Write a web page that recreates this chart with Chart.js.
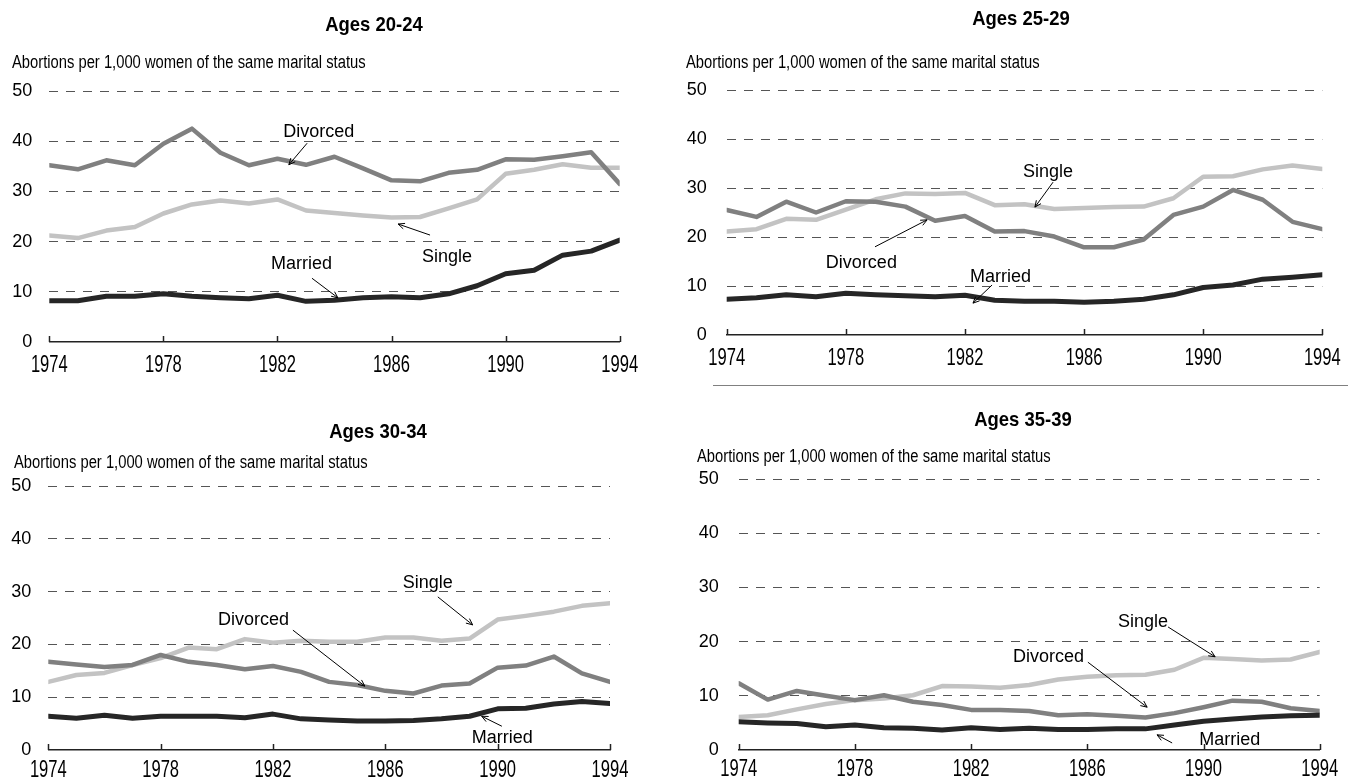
<!DOCTYPE html>
<html>
<head>
<meta charset="utf-8">
<script src="https://cdn.jsdelivr.net/npm/chart.js@4/dist/chart.umd.min.js"></script>
<style>
  html, body { margin: 0; padding: 0; background: #fff; }
  body { width: 1349px; height: 781px; position: relative; overflow: hidden; }
  canvas { position: absolute; }
</style>
</head>
<body>
<canvas id="c1"></canvas>
<canvas id="c2"></canvas>
<canvas id="c3"></canvas>
<canvas id="c4"></canvas>
<script>
// ---------- data ----------
const years = [1974, 1975, 1976, 1977, 1978, 1979, 1980, 1981, 1982, 1983, 1984,
               1985, 1986, 1987, 1988, 1989, 1990, 1991, 1992, 1993, 1994];
const yTicks = [0, 10, 20, 30, 40, 50];
const xTicks = [1974, 1978, 1982, 1986, 1990, 1994];
const seriesNames = ["Single", "Divorced", "Married"];
const panelTitles = ["Ages 20-24", "Ages 25-29", "Ages 30-34", "Ages 35-39"];
const axisLabel = "Abortions per 1,000 women of the same marital status";

const a2024_single   = [21.2, 20.7, 22.2, 22.9, 25.6, 27.4, 28.2, 27.6, 28.4, 26.2, 25.7, 25.2, 24.8, 24.9, 26.6, 28.4, 33.5, 34.3, 35.4, 34.7, 34.7];
const a2024_divorced = [35.2, 34.4, 36.2, 35.2, 39.5, 42.5, 37.7, 35.2, 36.5, 35.3, 36.9, 34.6, 32.2, 32.0, 33.7, 34.3, 36.4, 36.3, 37.0, 37.8, 31.5];
const a2024_married  = [8.2, 8.2, 9.1, 9.1, 9.6, 9.1, 8.8, 8.6, 9.3, 8.1, 8.3, 8.8, 9.0, 8.8, 9.6, 11.2, 13.6, 14.3, 17.3, 18.1, 20.3];

const a2529_single   = [21.1, 21.6, 23.7, 23.5, 25.6, 27.7, 28.9, 28.8, 29.0, 26.5, 26.7, 25.7, 25.9, 26.1, 26.2, 27.9, 32.3, 32.4, 33.8, 34.6, 33.9];
const a2529_divorced = [25.5, 24.1, 27.2, 25.0, 27.3, 27.2, 26.2, 23.3, 24.3, 21.1, 21.2, 20.1, 17.9, 17.9, 19.5, 24.5, 26.2, 29.6, 27.6, 23.1, 21.6];
const a2529_married  = [7.3, 7.6, 8.2, 7.8, 8.5, 8.2, 8.0, 7.8, 8.1, 7.1, 6.9, 6.9, 6.7, 6.9, 7.3, 8.2, 9.7, 10.2, 11.4, 11.8, 12.3];

const a3034_single   = [12.9, 14.2, 14.6, 16.1, 17.4, 19.4, 19.1, 21.0, 20.3, 20.7, 20.5, 20.5, 21.3, 21.3, 20.7, 21.1, 24.7, 25.4, 26.2, 27.3, 27.8];
const a3034_divorced = [16.7, 16.2, 15.7, 16.1, 18.0, 16.7, 16.1, 15.3, 15.9, 14.8, 12.9, 12.3, 11.2, 10.7, 12.2, 12.6, 15.6, 16.0, 17.7, 14.5, 12.9];
const a3034_married  = [6.4, 6.0, 6.6, 6.0, 6.4, 6.4, 6.4, 6.1, 6.8, 5.9, 5.7, 5.5, 5.5, 5.6, 5.9, 6.4, 7.8, 7.9, 8.7, 9.2, 8.8];

const a3539_single   = [6.1, 6.4, 7.5, 8.5, 9.2, 9.5, 10.1, 11.8, 11.7, 11.5, 12.0, 13.0, 13.5, 13.8, 13.9, 14.8, 17.0, 16.8, 16.5, 16.7, 18.1];
const a3539_divorced = [12.3, 9.3, 10.9, 10.0, 9.2, 10.1, 8.9, 8.3, 7.4, 7.4, 7.2, 6.4, 6.6, 6.3, 6.0, 6.8, 7.9, 9.1, 8.9, 7.7, 7.2];
const a3539_married  = [5.2, 5.0, 4.9, 4.3, 4.6, 4.1, 4.0, 3.7, 4.1, 3.8, 4.0, 3.8, 3.8, 3.9, 3.9, 4.6, 5.3, 5.7, 6.1, 6.3, 6.4];

// annotation anchors in data units: [label, textX, textY, arrowFromX, arrowFromY, arrowToX, arrowToY]
const notes2024 = [
  ["Divorced", 1982.2, 41.8, 1983.04, 39.6, 1982.40, 35.3],
  ["Single",   1987.07, 16.9, 1987.35, 21.3, 1986.23, 23.5],
  ["Married",  1981.77, 15.5, 1983.21, 12.7, 1984.12, 8.8]
];
const notes2529 = [
  ["Single",   1983.95, 33.3, 1984.96, 31.2, 1984.35, 26.1],
  ["Divorced", 1977.33, 14.7, 1978.98, 18.0, 1980.73, 23.5],
  ["Married",  1982.17, 11.8, 1982.91, 10.2, 1982.27, 6.5]
];
const notes3034 = [
  ["Divorced", 1980.04, 24.6, 1982.71, 22.7, 1985.27, 12.1],
  ["Single",   1986.62, 31.6, 1987.87, 29.0, 1989.11, 23.7],
  ["Married",  1989.08, 2.3, 1990.15, 4.5, 1989.43, 6.4]
];
const notes3539 = [
  ["Single",   1987.06, 23.6, 1988.78, 22.7, 1990.40, 17.2],
  ["Divorced", 1983.44, 17.2, 1986.02, 16.2, 1988.06, 7.9],
  ["Married",  1989.85, 1.8, 1988.92, 1.3, 1988.40, 2.8]
];

// ---------- styling / layout ----------
const FONT = "'Liberation Sans', Arial, sans-serif";
const COLORS = { Single: "#c3c3c3", Divorced: "#808080", Married: "#262626" };
const WIDTHS = { Single: 4.5, Divorced: 4.5, Married: 5 };
const ORDER = { Single: 3, Divorced: 2, Married: 1 };

const panels = [
  { id: "c1", box: [0, 0, 670, 390], plot: [49.3, 619.7, 91, 342], titleX: 374, titleBase: 31,
    labelX: 12, labelBase: 68, tickPad: 17, xBase: 29.5,
    series: [a2024_single, a2024_divorced, a2024_married], notes: notes2024 },
  { id: "c2", box: [675, 0, 674, 390], plot: [726.7, 1322.3, 90, 335], titleX: 1021, titleBase: 25,
    labelX: 686, labelBase: 68, tickPad: 20, xBase: 30, sep: [713, 1348, 385],
    series: [a2529_single, a2529_divorced, a2529_married], notes: notes2529 },
  { id: "c3", box: [0, 392, 670, 389], plot: [48.3, 610, 486, 750], titleX: 378, titleBase: 438,
    labelX: 14, labelBase: 468, tickPad: 17, xBase: 27,
    series: [a3034_single, a3034_divorced, a3034_married], notes: notes3034 },
  { id: "c4", box: [675, 392, 674, 389], plot: [738.7, 1319.7, 479, 750], titleX: 1023, titleBase: 426,
    labelX: 697, labelBase: 462, tickPad: 20, xBase: 25.5,
    series: [a3539_single, a3539_divorced, a3539_married], notes: notes3539 }
];

Chart.defaults.font.family = FONT;
Chart.defaults.color = "#000";

function condensedText(ctx, text, x, y, sx, font, align) {
  ctx.save();
  ctx.font = font;
  ctx.textAlign = align;
  ctx.translate(x, y);
  ctx.scale(sx, 1);
  ctx.fillText(text, 0, 0);
  ctx.restore();
}

function arrow(ctx, x1, y1, x2, y2) {
  ctx.beginPath();
  ctx.moveTo(x1, y1);
  ctx.lineTo(x2, y2);
  ctx.stroke();
  const a = Math.atan2(y2 - y1, x2 - x1);
  const L = 7, w = 0.42;
  ctx.beginPath();
  ctx.moveTo(x2 - L * Math.cos(a - w), y2 - L * Math.sin(a - w));
  ctx.lineTo(x2, y2);
  ctx.lineTo(x2 - L * Math.cos(a + w), y2 - L * Math.sin(a + w));
  ctx.stroke();
}

const decor = {
  id: "decor",
  afterDraw(chart, args, opts) {
    const p = opts.panel;
    const ctx = chart.ctx;
    const ox = p.box[0], oy = p.box[1];
    const xs = chart.scales.x, ys = chart.scales.y;
    ctx.save();
    const yb = ys.getPixelForValue(0);
    // upward tick marks and condensed year labels on the x axis
    ctx.strokeStyle = "#222";
    ctx.lineWidth = 1.5;
    ctx.fillStyle = "#000";
    ctx.textBaseline = "alphabetic";
    xTicks.forEach(v => {
      const x = Math.round(xs.getPixelForValue(v)) + 0.5;
      ctx.beginPath();
      ctx.moveTo(x, yb);
      ctx.lineTo(x, yb - 6);
      ctx.stroke();
      condensedText(ctx, String(v), xs.getPixelForValue(v), yb + p.xBase, 0.72, "23px " + FONT, "center");
    });
    // title
    condensedText(ctx, opts.title, p.titleX - ox, p.titleBase - oy, 0.88, "bold 21px " + FONT, "center");
    // axis label
    condensedText(ctx, axisLabel, p.labelX - ox, p.labelBase - oy, 0.82, "18px " + FONT, "left");
    // annotations
    ctx.font = "18px " + FONT;
    ctx.textAlign = "left";
    ctx.lineWidth = 1;
    ctx.strokeStyle = "#000";
    ctx.textBaseline = "middle";
    p.notes.forEach(n => {
      ctx.fillText(n[0], xs.getPixelForValue(n[1]), ys.getPixelForValue(n[2]));
      arrow(ctx, xs.getPixelForValue(n[3]), ys.getPixelForValue(n[4]),
                 xs.getPixelForValue(n[5]), ys.getPixelForValue(n[6]));
    });
    // separator
    if (p.sep) {
      ctx.strokeStyle = "#808080";
      ctx.lineWidth = 1.2;
      ctx.beginPath();
      ctx.moveTo(p.sep[0] - ox, p.sep[2] - oy + 0.5);
      ctx.lineTo(p.sep[1] - ox, p.sep[2] - oy + 0.5);
      ctx.stroke();
    }
    ctx.restore();
  }
};

panels.forEach((p, i) => {
  const cv = document.getElementById(p.id);
  cv.width = p.box[2]; cv.height = p.box[3];
  cv.style.left = p.box[0] + "px"; cv.style.top = p.box[1] + "px";
  cv.style.width = p.box[2] + "px"; cv.style.height = p.box[3] + "px";
  const leftW = p.plot[0] - p.box[0];
  const padTop = p.plot[2] - p.box[1];
  const padRight = p.box[0] + p.box[2] - p.plot[1];
  const botH = p.box[1] + p.box[3] - p.plot[3];
  const datasets = seriesNames.map((name, k) => ({
    label: name,
    data: years.map((yr, j) => ({ x: yr, y: p.series[k][j] })),
    borderColor: COLORS[name],
    backgroundColor: COLORS[name],
    borderWidth: WIDTHS[name],
    pointRadius: 0,
    tension: 0,
    borderJoinStyle: "round",
    borderCapStyle: "round",
    order: ORDER[name]
  }));
  new Chart(cv, {
    type: "line",
    data: { datasets },
    options: {
      responsive: false,
      animation: false,
      devicePixelRatio: 1,
      layout: { padding: { left: 0, top: padTop, right: padRight, bottom: 0 } },
      plugins: {
        legend: { display: false },
        tooltip: { enabled: false },
        title: { display: false },
        decor: { panel: p, title: panelTitles[i] }
      },
      scales: {
        x: {
          type: "linear",
          min: years[0], max: years[years.length - 1],
          afterBuildTicks: s => { s.ticks = xTicks.map(v => ({ value: v })); },
          afterFit: s => { s.height = botH; },
          grid: { display: false, drawTicks: false },
          border: { display: true, color: "#222", width: 1.5 },
          ticks: { display: false }
        },
        y: {
          min: yTicks[0], max: yTicks[yTicks.length - 1],
          afterBuildTicks: s => { s.ticks = yTicks.map(v => ({ value: v })); },
          afterFit: s => { s.width = leftW; },
          grid: {
            drawTicks: false,
            color: ctx => (ctx.tick && ctx.tick.value === 0) ? "rgba(0,0,0,0)" : "#555",
            lineWidth: 1
          },
          border: { display: false, dash: [9, 8] },
          ticks: {
            padding: p.tickPad,
            font: { size: 18 },
            color: "#000",
            callback: v => String(v)
          }
        }
      }
    },
    plugins: [decor]
  });
});
</script>
</body>
</html>
